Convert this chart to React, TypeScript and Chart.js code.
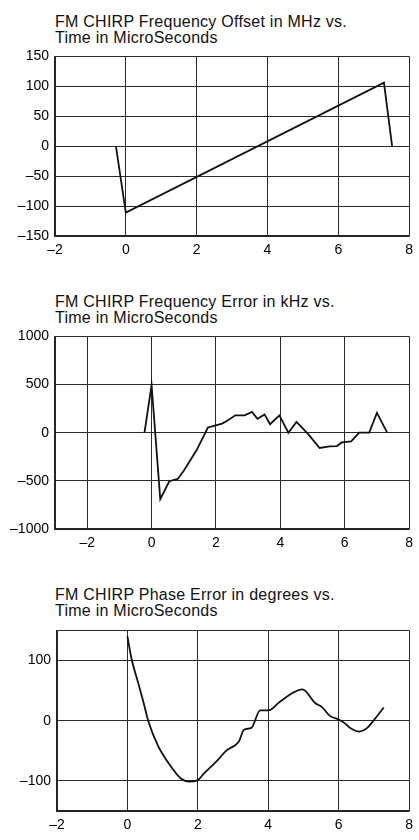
import React, { useEffect, useRef } from "react";
import { Chart, registerables } from "chart.js";

Chart.register(...registerables);

// ---------- Data ----------
const offsetTitle = ["FM CHIRP Frequency Offset in MHz vs.", "Time in MicroSeconds"];
const offsetTimes = [-0.28, 0.0, 7.29, 7.52];
const offsetValues = [0, -111, 106, 0];
const offsetXTicks = [-2, 0, 2, 4, 6, 8];
const offsetYTicks = [-150, -100, -50, 0, 50, 100, 150];

const errorTitle = ["FM CHIRP Frequency Error in kHz vs.", "Time in MicroSeconds"];
const errorTimes = [
  -0.22, 0.0, 0.27, 0.55, 0.81, 1.0, 1.4, 1.75, 1.94, 2.19, 2.35, 2.6, 2.89, 3.12,
  3.29, 3.51, 3.68, 3.97, 4.25, 4.5, 4.86, 5.22, 5.53, 5.76, 5.91, 6.2, 6.45, 6.76,
  7.0, 7.32,
];
const errorValues = [
  0, 495, -690, -504, -480, -395, -180, 54, 71, 94, 125, 180, 180, 216,
  145, 190, 88, 180, 0, 112, -13, -159, -142, -139, -101, -91, 0, 0,
  206, 0,
];
const errorXTicks = [-3, -2, 0, 2, 4, 6, 8];
const errorYTicks = [-1000, -500, 0, 500, 1000];

const phaseTitle = ["FM CHIRP Phase Error in degrees vs.", "Time in MicroSeconds"];
const phaseTimes = [
  0, 0.12, 0.31, 0.45, 0.59, 0.87, 1.15, 1.52, 1.75, 1.99, 2.17, 2.57,
  2.8, 3.17, 3.31, 3.52, 3.77, 4.0, 4.32, 4.69, 4.97, 5.34, 5.52, 5.75, 6.0, 6.17,
  6.35, 6.58, 6.81, 7.0, 7.28,
];
const phaseValues = [
  140, 102, 62, 32, 0, -42, -69, -96, -101, -99, -88, -65,
  -50, -34, -15, -12, 17, 17, 31, 46, 52, 29, 23, 8, 2, -4,
  -13, -18, -12, 1, 22,
];
const phaseXTicks = [-2, 0, 2, 4, 6, 8];
const phaseYTicks = [-150, -100, 0, 100, 150];
const phaseHiddenY = [-150, 150];

// ---------- Styling ----------
const FONT = "'Liberation Sans Narrow', 'Liberation Sans', Arial, sans-serif";
const GRID = "#2a2a2a";

const fmt = (v: number) => (v < 0 ? "\u2013" + Math.abs(v) : String(v));

type Spec = {
  times: number[];
  values: number[];
  xMin: number;
  xMax: number;
  yMin: number;
  yMax: number;
  xTicks: number[];
  yTicks: number[];
  hiddenX?: number[];
  hiddenY?: number[];
  yWidth: number;
  padRight: number;
  smooth: boolean;
};

function makeConfig(s: Spec): any {
  return {
    type: "line",
    data: {
      datasets: [
        {
          data: s.times.map((t, i) => ({ x: t, y: s.values[i] })),
          borderColor: "#111",
          borderWidth: 1.8,
          pointRadius: 0,
          tension: s.smooth ? 0.4 : 0,
          cubicInterpolationMode: s.smooth ? "monotone" : "default",
          fill: false,
        },
      ],
    },
    options: {
      responsive: false,
      animation: false,
      events: [],
      layout: { padding: { left: 0, right: s.padRight, top: 10, bottom: 0 } },
      plugins: { legend: { display: false }, tooltip: { enabled: false }, title: { display: false } },
      scales: {
        x: {
          type: "linear",
          min: s.xMin,
          max: s.xMax,
          afterBuildTicks: (sc: any) => {
            sc.ticks = s.xTicks.map((v) => ({ value: v }));
          },
          afterFit: (sc: any) => {
            sc.height = 24;
          },
          ticks: {
            autoSkip: false,
            maxRotation: 0,
            padding: 6,
            color: "#000",
            font: { family: FONT, size: 14 },
            callback: (v: number) => ((s.hiddenX || []).includes(v) ? "" : fmt(v)),
          },
          grid: { color: GRID, lineWidth: 1, drawTicks: false },
          border: { color: "#222", width: 1.5 },
        },
        y: {
          type: "linear",
          min: s.yMin,
          max: s.yMax,
          afterBuildTicks: (sc: any) => {
            sc.ticks = s.yTicks.map((v) => ({ value: v }));
          },
          afterFit: (sc: any) => {
            sc.width = s.yWidth;
          },
          ticks: {
            autoSkip: false,
            padding: 6,
            color: "#000",
            font: { family: FONT, size: 14 },
            callback: (v: number) => ((s.hiddenY || []).includes(v) ? "" : fmt(v)),
          },
          grid: { color: GRID, lineWidth: 1, drawTicks: false },
          border: { color: "#222", width: 1.5 },
        },
      },
    },
  };
}

const titleStyle = (top: number): React.CSSProperties => ({
  position: "absolute",
  left: 55,
  top,
  fontFamily: FONT,
  fontSize: 16,
  lineHeight: "16px",
  letterSpacing: "0.25px",
  color: "#111",
  whiteSpace: "nowrap",
  margin: 0,
});

export default function App() {
  const c1 = useRef<HTMLCanvasElement>(null);
  const c2 = useRef<HTMLCanvasElement>(null);
  const c3 = useRef<HTMLCanvasElement>(null);

  useEffect(() => {
    const charts: Chart[] = [];
    if (c1.current) {
      charts.push(
        new Chart(
          c1.current,
          makeConfig({
            times: offsetTimes,
            values: offsetValues,
            xMin: -2,
            xMax: 8,
            yMin: -150,
            yMax: 150,
            xTicks: offsetXTicks,
            yTicks: offsetYTicks,
            yWidth: 55,
            padRight: 7,
            smooth: false,
          })
        )
      );
    }
    if (c2.current) {
      charts.push(
        new Chart(
          c2.current,
          makeConfig({
            times: errorTimes,
            values: errorValues,
            xMin: -3,
            xMax: 8,
            yMin: -1000,
            yMax: 1000,
            xTicks: errorXTicks,
            yTicks: errorYTicks,
            hiddenX: [-3],
            yWidth: 55,
            padRight: 7,
            smooth: false,
          })
        )
      );
    }
    if (c3.current) {
      charts.push(
        new Chart(
          c3.current,
          makeConfig({
            times: phaseTimes,
            values: phaseValues,
            xMin: -2,
            xMax: 8,
            yMin: -150,
            yMax: 150,
            xTicks: phaseXTicks,
            yTicks: phaseYTicks,
            hiddenY: phaseHiddenY,
            yWidth: 57,
            padRight: 6,
            smooth: true,
          })
        )
      );
    }
    return () => charts.forEach((c) => c.destroy());
  }, []);

  return (
    <div style={{ position: "absolute", left: 0, top: 0, width: 419, height: 840, background: "#fff" }}>
      <div style={titleStyle(14)}>
        {offsetTitle[0]}
        <br />
        {offsetTitle[1]}
      </div>
      <canvas
        ref={c1}
        width={419}
        height={218}
        style={{ position: "absolute", left: 0, top: 42, width: 419, height: 218 }}
      />
      <div style={titleStyle(294)}>
        {errorTitle[0]}
        <br />
        {errorTitle[1]}
      </div>
      <canvas
        ref={c2}
        width={419}
        height={231}
        style={{ position: "absolute", left: 0, top: 322, width: 419, height: 231 }}
      />
      <div style={titleStyle(587)}>
        {phaseTitle[0]}
        <br />
        {phaseTitle[1]}
      </div>
      <canvas
        ref={c3}
        width={419}
        height={219}
        style={{ position: "absolute", left: 0, top: 616, width: 419, height: 219 }}
      />
    </div>
  );
}
